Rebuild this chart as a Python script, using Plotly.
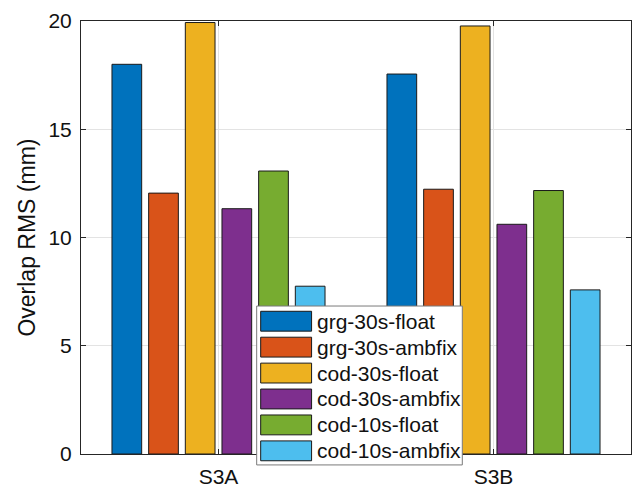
import plotly.graph_objects as go

# Data
categories = ["S3A", "S3B"]
series_names = [
    "grg-30s-float",
    "grg-30s-ambfix",
    "cod-30s-float",
    "cod-30s-ambfix",
    "cod-10s-float",
    "cod-10s-ambfix",
]
grg_30s_float = [18.0, 17.55]
grg_30s_ambfix = [12.05, 12.23]
cod_30s_float = [19.93, 19.77]
cod_30s_ambfix = [11.33, 10.61]
cod_10s_float = [13.07, 12.17]
cod_10s_ambfix = [7.75, 7.58]
y_ticks = [0, 5, 10, 15, 20]

series_values = [
    grg_30s_float,
    grg_30s_ambfix,
    cod_30s_float,
    cod_30s_ambfix,
    cod_10s_float,
    cod_10s_ambfix,
]
colors = ["#0072BD", "#D95319", "#EDB120", "#7E2F8E", "#77AC30", "#4DBEEE"]

FONT = "Liberation Sans, Arial, Helvetica, sans-serif"
AXIS_COLOR = "#262626"
GRID_COLOR = "#e3e3e3"

W, H = 636, 492
M_L, M_R, M_T, M_B = 81, 4, 21, 35
PW = W - M_L - M_R
PH = H - M_T - M_B

fig = go.Figure()
for name, vals, col in zip(series_names, series_values, colors):
    fig.add_trace(go.Bar(
        x=categories, y=vals, name=name,
        marker=dict(color=col, line=dict(color="#1a1a1a", width=1)),
        showlegend=False,
    ))


def px_x(px):
    return (px - M_L) / PW


def px_y(py):
    return (H - M_B - py) / PH


# Boxed legend in the lower middle of the axes
shapes = []
annotations = []
lx0, lx1, ly0, ly1 = 257, 463, 308, 468
shapes.append(dict(type="rect", xref="paper", yref="paper",
                   x0=px_x(lx0), x1=px_x(lx1), y0=px_y(ly1), y1=px_y(ly0),
                   fillcolor="white", line=dict(color="#7a7a7a", width=1),
                   layer="above"))
first_c, pitch = 323.3, 26.1
for i, (name, col) in enumerate(zip(series_names, colors)):
    cy = first_c + i * pitch
    shapes.append(dict(type="rect", xref="paper", yref="paper",
                       x0=px_x(261), x1=px_x(312), y0=px_y(cy + 10), y1=px_y(cy - 10),
                       fillcolor=col, line=dict(color="#1a1a1a", width=1),
                       layer="above"))
    annotations.append(dict(text=name, xref="paper", yref="paper",
                            x=px_x(315.5), y=px_y(cy), xanchor="left", yanchor="middle",
                            showarrow=False, font=dict(family=FONT, size=21, color="#111111")))

# y-axis title
annotations.append(dict(text="Overlap RMS (mm)", xref="paper", yref="paper",
                        x=px_x(26), y=0.5, xanchor="center", yanchor="middle",
                        textangle=-90, showarrow=False,
                        font=dict(family=FONT, size=23, color="#111111")))

fig.update_layout(
    width=W, height=H,
    margin=dict(l=M_L, r=M_R, t=M_T, b=M_B, pad=0),
    paper_bgcolor="white", plot_bgcolor="white",
    barmode="group", bargap=0.2, bargroupgap=0.19,
    font=dict(family=FONT, size=21, color="#111111"),
    shapes=shapes, annotations=annotations,
)
fig.update_xaxes(
    type="category", range=[-0.5, 1.5],
    showline=True, linecolor=AXIS_COLOR, linewidth=1, mirror="ticks",
    ticks="inside", ticklen=5, tickcolor=AXIS_COLOR,
    showgrid=True, gridcolor=GRID_COLOR, gridwidth=1,
    tickfont=dict(family=FONT, size=21, color="#111111"),
    ticklabelstandoff=4,
)
fig.update_yaxes(
    range=[0, 20], tickvals=y_ticks,
    showline=True, linecolor=AXIS_COLOR, linewidth=1, mirror="ticks",
    ticks="inside", ticklen=5, tickcolor=AXIS_COLOR,
    showgrid=True, gridcolor=GRID_COLOR, gridwidth=1, zeroline=False,
    tickfont=dict(family=FONT, size=21, color="#111111"),
    ticklabelstandoff=4,
)

fig.write_html("out.html")
